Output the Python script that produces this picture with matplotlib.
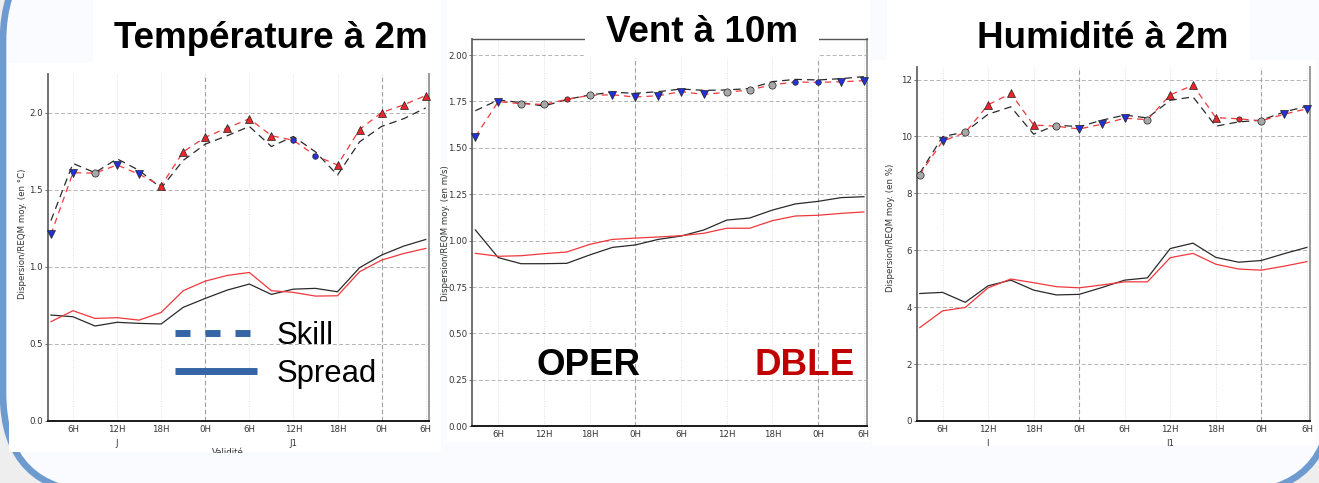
import matplotlib
matplotlib.use('Agg')
import matplotlib.pyplot as plt
from matplotlib.patches import FancyBboxPatch, Rectangle
from matplotlib.lines import Line2D
from matplotlib.transforms import IdentityTransform, blended_transform_factory
import numpy as np

# ---------------- data ----------------
lead_hours = list(range(3, 55, 3))
tick_hours = [6, 12, 18, 24, 30, 36, 42, 48, 54]
tick_labels = ['6H', '12H', '18H', '0H', '6H', '12H', '18H', '0H', '6H']
day_bounds = [24, 48]
day_hours = [12, 36]
day_labels = ['J', 'J1']

titles = ['Température à 2m', 'Vent à 10m', 'Humidité à 2m']
ylabels = ['Dispersion/REQM moy. (en °C)', 'Dispersion/REQM moy. (en m/s)', 'Dispersion/REQM moy. (en %)']

# Temperature
temp_skill_oper = [1.30, 1.67, 1.61, 1.70, 1.625, 1.51, 1.69, 1.795, 1.85, 1.91, 1.78, 1.845, 1.745, 1.595, 1.81, 1.91, 1.96, 2.03]
temp_skill_dble = [1.21, 1.61, 1.607, 1.66, 1.60, 1.525, 1.745, 1.84, 1.90, 1.96, 1.85, 1.82, 1.72, 1.66, 1.89, 2.00, 2.05, 2.11]
temp_spread_oper = [0.687, 0.676, 0.616, 0.64, 0.633, 0.629, 0.737, 0.795, 0.849, 0.888, 0.821, 0.855, 0.86, 0.838, 0.994, 1.076, 1.134, 1.177]
temp_spread_dble = [0.644, 0.715, 0.665, 0.67, 0.654, 0.704, 0.845, 0.907, 0.944, 0.963, 0.845, 0.834, 0.81, 0.812, 0.968, 1.043, 1.086, 1.119]
temp_sig = ['bv', 'bv', 'go', 'bv', 'bv', 'r^', 'r^', 'r^', 'r^', 'r^', 'r^', 'bo', 'bo', 'r^', 'r^', 'r^', 'r^', 'r^']
temp_yticks = [0.0, 0.5, 1.0, 1.5, 2.0]
temp_ytick_labels = ['0.0', '0.5', '1.0', '1.5', '2.0']

# Wind
wind_skill_oper = [1.70, 1.758, 1.744, 1.725, 1.761, 1.785, 1.80, 1.794, 1.803, 1.817, 1.81, 1.812, 1.82, 1.857, 1.869, 1.866, 1.873, 1.884]
wind_skill_dble = [1.56, 1.749, 1.738, 1.734, 1.761, 1.783, 1.786, 1.774, 1.781, 1.803, 1.788, 1.80, 1.812, 1.84, 1.855, 1.853, 1.856, 1.862]
wind_spread_oper = [1.058, 0.909, 0.876, 0.876, 0.878, 0.923, 0.964, 0.977, 1.007, 1.025, 1.058, 1.111, 1.122, 1.165, 1.198, 1.212, 1.232, 1.237]
wind_spread_dble = [0.932, 0.916, 0.919, 0.93, 0.939, 0.98, 1.007, 1.014, 1.02, 1.027, 1.04, 1.067, 1.067, 1.108, 1.133, 1.137, 1.147, 1.155]
wind_sig = ['bv', 'bv', 'go', 'go', 'ro', 'go', 'bv', 'bv', 'bv', 'bv', 'bv', 'go', 'go', 'go', 'bo', 'bo', 'bv', 'bv']
wind_yticks = [0.0, 0.25, 0.5, 0.75, 1.0, 1.25, 1.5, 1.75, 2.0]
wind_ytick_labels = ['0.00', '0.25', '0.50', '0.75', '1.00', '1.25', '1.50', '1.75', '2.00']

# Humidity
hum_skill_oper = [8.70, 9.99, 10.16, 10.78, 11.04, 10.08, 10.40, 10.34, 10.57, 10.75, 10.65, 11.27, 11.39, 10.36, 10.51, 10.57, 10.86, 11.06]
hum_skill_dble = [8.66, 9.83, 10.14, 11.11, 11.51, 10.40, 10.36, 10.26, 10.43, 10.64, 10.59, 11.46, 11.80, 10.66, 10.62, 10.55, 10.78, 10.97]
hum_spread_oper = [4.48, 4.52, 4.17, 4.75, 4.95, 4.60, 4.43, 4.45, 4.69, 4.95, 5.03, 6.06, 6.25, 5.75, 5.58, 5.64, 5.88, 6.10]
hum_spread_dble = [3.28, 3.87, 3.99, 4.68, 4.99, 4.86, 4.72, 4.68, 4.78, 4.89, 4.89, 5.74, 5.89, 5.51, 5.34, 5.30, 5.44, 5.60]
hum_sig = ['go', 'bv', 'go', 'r^', 'r^', 'r^', 'go', 'bv', 'bv', 'bv', 'go', 'r^', 'r^', 'r^', 'ro', 'go', 'bv', 'bv']
hum_yticks = [0, 2, 4, 6, 8, 10, 12]
hum_ytick_labels = ['0', '2', '4', '6', '8', '10', '12']

legend_labels = ['Skill', 'Spread']
model_labels = ['OPER', 'DBLE']

# ---------------- styles ----------------
W, H = 1319, 483
BG = '#fafbfe'
OUT = '#eeeeee'
BORDER = '#6e9bcf'
LEG_BLUE = '#3565a5'
RED = '#f0383c'
BLACK = '#2a2a2a'
sig_styles = {
    'bv': dict(marker='v', mfc='#2230d8', ms=5.2),
    'r^': dict(marker='^', mfc='#e8262b', ms=5.2),
    'go': dict(marker='o', mfc='#a8a8a8', ms=5.2),
    'bo': dict(marker='o', mfc='#2733d9', ms=4.0),
    'ro': dict(marker='o', mfc='#e8262b', ms=3.8),
}
TITLE_FONT = 'Liberation Sans'

fig = plt.figure(figsize=(W / 100, H / 100), dpi=100, facecolor=OUT)
px = IdentityTransform()


def pbox(x0, y0, x1, y1):
    """figure-fraction rectangle from pixel box (top-left origin)"""
    return [x0 / W, 1 - y1 / H, (x1 - x0) / W, (y1 - y0) / H]


# slide background with rounded blue border
fig.add_artist(FancyBboxPatch((3, H - 493), 1329, 552,
                              boxstyle='round,pad=0,rounding_size=100',
                              transform=px, facecolor=BG, edgecolor=BORDER,
                              linewidth=4.8, zorder=-5))
# white panel images
for (x0, y0, x1, y1) in [(9, 63, 441, 452), (446, 0, 870, 442), (872, 60, 1316, 446)]:
    fig.add_artist(Rectangle((x0, H - y1), x1 - x0, y1 - y0, transform=px,
                             facecolor='white', edgecolor='none', zorder=-4))

panels = [
    dict(box=(48, 74, 429, 421), ylim=(0, 2.25), top=False,
         so=temp_skill_oper, sd=temp_skill_dble, po=temp_spread_oper, pd=temp_spread_dble,
         sig=temp_sig, yt=temp_yticks, ytl=temp_ytick_labels, days=True, xlabel=True,
         ylab=(-0.054, 0.539)),
    dict(box=(472.3, 39.3, 867.3, 426.3), ylim=(0, 2.085), top=True,
         so=wind_skill_oper, sd=wind_skill_dble, po=wind_spread_oper, pd=wind_spread_dble,
         sig=wind_sig, yt=wind_yticks, ytl=wind_ytick_labels, days=False, xlabel=False,
         ylab=(-0.056, 0.5)),
    dict(box=(916.7, 66.7, 1310.3, 421), ylim=(0, 12.45), top=False,
         so=hum_skill_oper, sd=hum_skill_dble, po=hum_spread_oper, pd=hum_spread_dble,
         sig=hum_sig, yt=hum_yticks, ytl=hum_ytick_labels, days=True, xlabel=False,
         ylab=(-0.055, 0.545)),
]

axes = []
for i, p in enumerate(panels):
    ax = fig.add_axes(pbox(*p['box']))
    ax.set_facecolor('white')
    x = np.array(lead_hours)
    ax.set_xlim(2.6, 54.45)
    ax.set_ylim(*p['ylim'])
    ax.set_yticks(p['yt'])
    ax.set_yticklabels(p['ytl'])
    ax.set_xticks(tick_hours)
    ax.set_xticklabels(tick_labels)
    ax.grid(axis='y', linestyle=(0, (4, 2.5)), color='#b4b4b4', linewidth=0.7)
    ax.grid(axis='x', linestyle=(0, (1, 1.5)), color='#e2e2e2', linewidth=0.7)
    for d in day_bounds:
        ax.axvline(d, color='#a0a0a0', linestyle=(0, (4, 2.5)), linewidth=0.8, zorder=1)
    ax.set_axisbelow(True)
    # spread
    ax.plot(x, p['po'], color=BLACK, linewidth=0.9, zorder=3)
    ax.plot(x, p['pd'], color=RED, linewidth=0.9, zorder=3)
    # skill
    ax.plot(x, p['so'], color=BLACK, linewidth=0.9, dashes=(6, 4), zorder=3)
    ax.plot(x, p['sd'], color=RED, linewidth=0.9, dashes=(5, 4), zorder=4)
    sig = np.array(p['sig'])
    sd = np.array(p['sd'])
    for key, st in sig_styles.items():
        m = sig == key
        if m.any():
            ax.plot(x[m], sd[m], linestyle='none', marker=st['marker'],
                    markerfacecolor=st['mfc'], markersize=st['ms'],
                    markeredgecolor='#222222', markeredgewidth=0.5, zorder=5,
                    clip_on=False)
    # spines
    ax.spines['left'].set_color('#666666')
    ax.spines['left'].set_linewidth(1.3)
    ax.spines['bottom'].set_color('#1a1a1a')
    ax.spines['bottom'].set_linewidth(1.4)
    ax.spines['right'].set_color('#9a9a9a')
    ax.spines['right'].set_linewidth(1.4)
    if p['top']:
        ax.spines['top'].set_color('#555555')
        ax.spines['top'].set_linewidth(1.0)
    else:
        ax.spines['top'].set_visible(False)
    ax.tick_params(axis='y', length=2.5, width=0.6, pad=1, labelsize=6.2,
                   labelcolor='#333333', color='#555555')
    ax.tick_params(axis='x', length=0, pad=3, labelsize=6.2, labelcolor='#333333')
    ax.set_ylabel(ylabels[i], fontsize=6.2, color='#333333')
    ax.yaxis.set_label_coords(*p['ylab'])
    if p['days']:
        tr = blended_transform_factory(ax.transData, ax.transAxes)
        for dh, dl in zip(day_hours, day_labels):
            ax.text(dh, -0.064, dl, transform=tr, ha='center', va='center',
                    fontsize=6.2, color='#333333', clip_on=False)
    if p['xlabel']:
        ax.text(0.472, -0.092, 'Validité', transform=ax.transAxes, ha='center',
                va='center', fontsize=6.2, color='#333333', clip_on=False)
    axes.append(ax)

# crop edges of the pasted chart images (labels cut at the bottom)
fig.add_artist(Rectangle((100, H - 483), 345, 483 - 452.5, transform=px,
                         facecolor=BG, edgecolor='none', zorder=6))
fig.add_artist(Rectangle((880, H - 483), 380, 483 - 445.5, transform=px,
                         facecolor=BG, edgecolor='none', zorder=6))

# title boxes
for (x0, y0, x1, y1) in [(93, 0, 441, 63), (585, 0, 819, 58), (887, 0, 1250, 62)]:
    fig.add_artist(Rectangle((x0, H - y1), x1 - x0, y1 - y0, transform=px,
                             facecolor='white', edgecolor='none', zorder=7))
title_pos = [(271, 48.3), (701.5, 41.7), (1102.5, 48.3)]
for t, (tx, ty) in zip(titles, title_pos):
    fig.text(tx / W, 1 - ty / H, t, ha='center', va='baseline', fontsize=26.5,
             fontweight='bold', family=TITLE_FONT, color='black', zorder=8)

# OPER / DBLE labels
fig.text(537 / W, 1 - 375 / H, model_labels[0], ha='left', va='baseline', fontsize=26.5,
         fontweight='bold', family=TITLE_FONT, color='black', zorder=8)
fig.text(855 / W, 1 - 375 / H, model_labels[1], ha='right', va='baseline', fontsize=26.5,
         fontweight='bold', family=TITLE_FONT, color='#c00000', zorder=8)

# Skill / Spread key
handles = [Line2D([], [], color=LEG_BLUE, linewidth=5.0, linestyle=(0, (2.16, 2.16)),
                  dash_capstyle='butt'),
           Line2D([], [], color=LEG_BLUE, linewidth=5.0, solid_capstyle='butt')]
leg = fig.legend(handles, legend_labels, loc='upper left',
                 bbox_to_anchor=(175 / W, 1 - 321 / H), frameon=False,
                 prop={'family': TITLE_FONT, 'size': 22.3},
                 handlelength=2.65, handletextpad=0.62, labelspacing=0.26,
                 borderpad=0, borderaxespad=0)
leg.set_zorder(8)

fig.savefig('out.png', dpi=100, facecolor=fig.get_facecolor())
